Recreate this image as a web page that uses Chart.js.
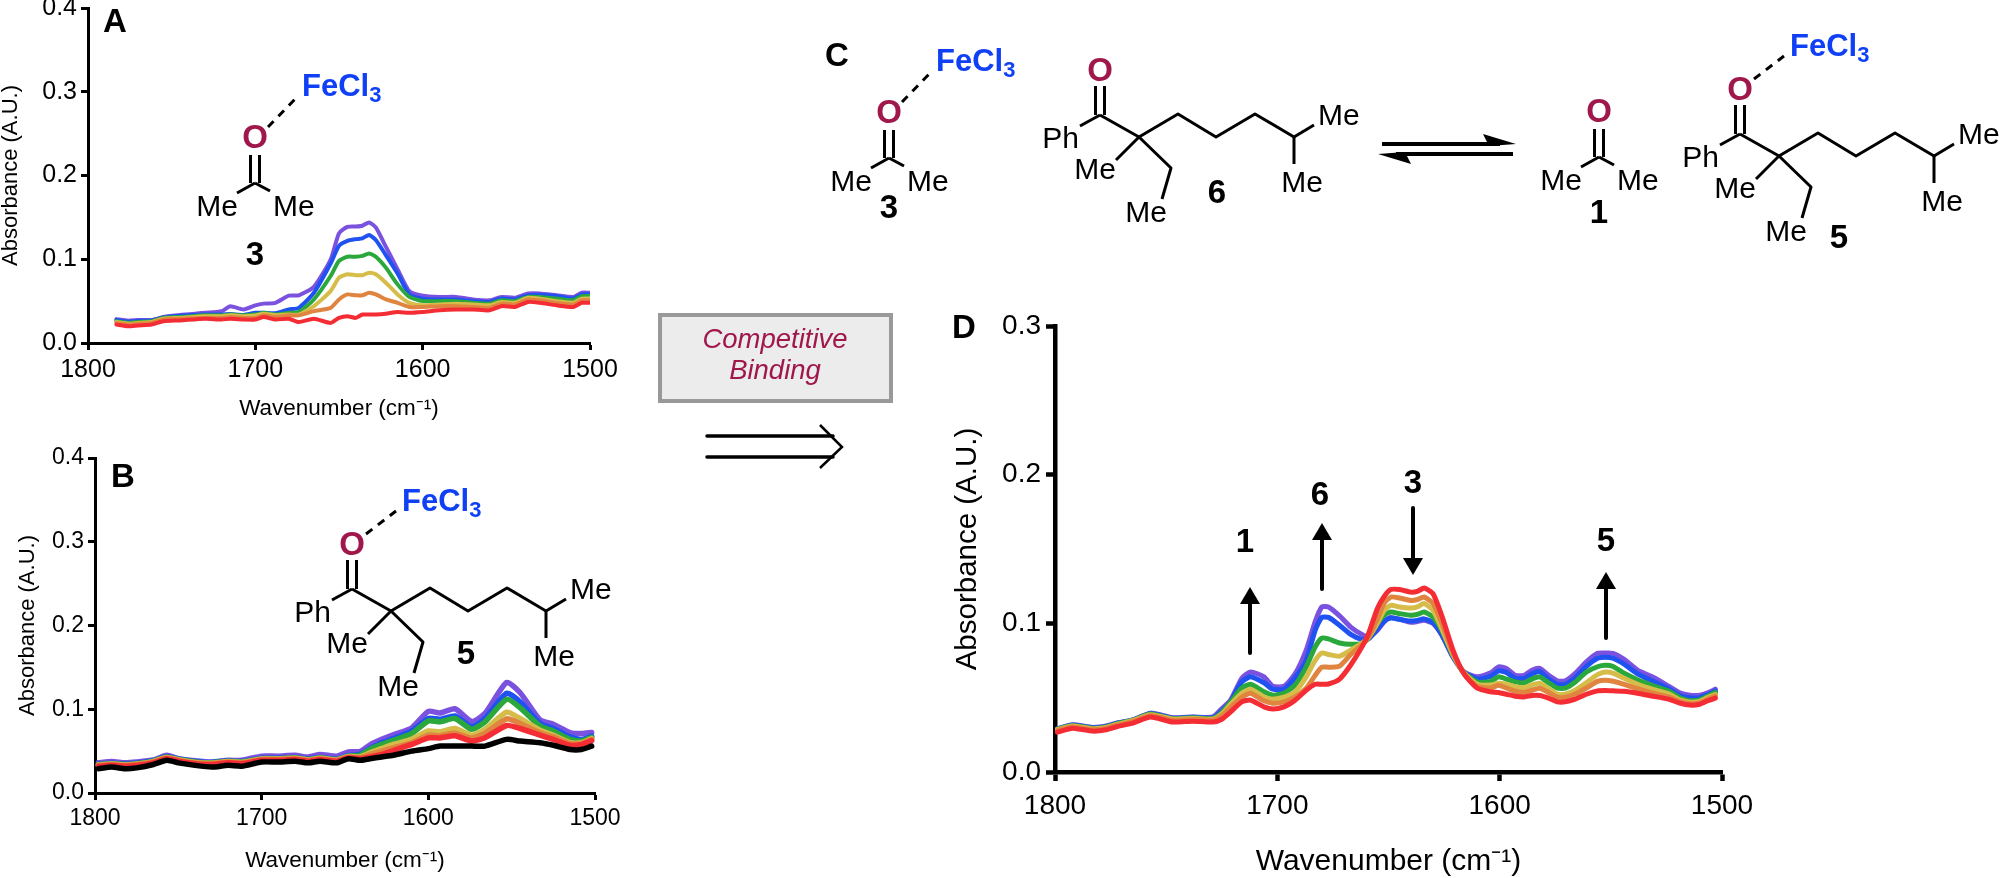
<!DOCTYPE html>
<html>
<head>
<meta charset="utf-8">
<title>Competitive binding</title>
<script src="https://cdn.jsdelivr.net/npm/chart.js@4/dist/chart.umd.min.js"></script>
<style>
  html, body { margin: 0; padding: 0; background: #fff; }
  #page { position: relative; width: 2000px; height: 878px; overflow: hidden; }
  canvas { position: absolute; }
  #scheme { position: absolute; left: 0; top: 0; pointer-events: none; font-family: "Liberation Sans", Arial, sans-serif; }
</style>
</head>
<body>
<div id="page">
  <canvas id="chartA" width="620" height="430" style="left:0;top:0;width:620px;height:430px"></canvas>
  <canvas id="chartB" width="620" height="438" style="left:0;top:440px;width:620px;height:438px"></canvas>
  <canvas id="chartD" width="830" height="578" style="left:940px;top:300px;width:830px;height:578px"></canvas>
  <svg id="scheme" width="2000" height="878" viewBox="0 0 2000 878"></svg>
</div>
<script>
const xTicks = [1800, 1700, 1600, 1500];
const seriesNames = ["red", "orange", "yellow", "green", "blue", "purple"];
const seriesColors = ["#F42C34", "#E08540", "#D6BD4A", "#2BA83C", "#1F52F0", "#7B52E0"];

// panel A
const wnA = [1783,1776,1770,1762,1755,1745,1730,1720,1715,1707,1700,1695,1688,1680,1674,1665,1655,1650,1645,1640,1636,1632,1628,1622,1615,1608,1600,1590,1580,1570,1560,1553,1545,1537,1530,1520,1510,1505,1500];
const redA = [.022,.02,.021,.022,.026,.027,.029,.028,.029,.028,.028,.031,.028,.029,.025,.029,.024,.03,.032,.03,.034,.034,.034,.035,.037,.036,.037,.039,.04,.04,.039,.044,.043,.049,.048,.045,.043,.048,.048];
const orangeA = [.024,.022,.023,.024,.028,.029,.03,.03,.031,.03,.03,.033,.031,.033,.033,.038,.042,.052,.058,.057,.057,.06,.058,.052,.048,.043,.043,.044,.044,.043,.042,.047,.046,.052,.051,.048,.046,.051,.051];
const yellowA = [.025,.023,.024,.025,.029,.03,.032,.032,.033,.032,.033,.035,.033,.034,.034,.044,.062,.078,.082,.081,.081,.084,.082,.072,.058,.048,.045,.046,.047,.046,.045,.049,.048,.054,.053,.05,.048,.053,.053];
const greenA = [.026,.024,.025,.026,.03,.031,.033,.033,.034,.033,.034,.036,.034,.036,.037,.052,.08,.098,.103,.103,.104,.107,.103,.09,.07,.055,.05,.05,.05,.048,.047,.051,.05,.055,.055,.053,.051,.056,.056];
const blueA = [.0275,.0255,.0265,.027,.0305,.0325,.034,.034,.0345,.0335,.036,.036,.0355,.04,.042,.06,.095,.116,.122,.124,.125,.129,.123,.105,.083,.058,.053,.052,.052,.05,.049,.053,.052,.057,.0575,.056,.053,.058,.058];
const purpleA = [.0285,.0265,.0275,.0275,.031,.0335,.036,.038,.0438,.04,.045,.047,.048,.0565,.057,.067,.0996,.131,.1386,.139,.14,.144,.138,.115,.088,.062,.0565,.055,.055,.052,.051,.055,.054,.059,.059,.057,.055,.06,.06];

// panel B
const wnB = [1798,1790,1782,1775,1765,1757,1750,1740,1730,1720,1712,1700,1690,1680,1672,1665,1655,1648,1641,1635,1628,1621,1610,1600,1593,1584,1574,1566,1553,1545,1533,1525,1515,1508,1502];
const blackB = [.029,.031,.029,.03,.034,.039,.036,.033,.031,.033,.032,.037,.037,.038,.036,.038,.036,.041,.039,.041,.043,.045,.05,.053,.056,.056,.056,.056,.064,.062,.06,.057,.052,.052,.056];
const redB = [.032,.033,.032,.033,.036,.041,.038,.035,.034,.036,.035,.039,.039,.04,.038,.04,.038,.042,.041,.043,.046,.0507,.058,.0658,.0658,.0683,.062,.066,.0806,.077,.069,.064,.057,.058,.0625];
const orangeB = [.033,.034,.033,.034,.037,.042,.039,.036,.035,.037,.036,.04,.04,.041,.039,.041,.039,.043,.042,.046,.05,.054,.06,.069,.0685,.0715,.0655,.0715,.0885,.083,.072,.067,.059,.059,.064];
const yellowB = [.0335,.0345,.0335,.0345,.0375,.0425,.0395,.0365,.0355,.0375,.0365,.0405,.0405,.0415,.0395,.0415,.0395,.0435,.043,.048,.053,.058,.064,.074,.073,.077,.069,.076,.0965,.089,.075,.069,.06,.06,.065];
const greenB = [.034,.035,.034,.035,.038,.043,.04,.037,.036,.038,.037,.041,.041,.042,.04,.042,.04,.044,.045,.052,.058,.063,.071,.086,.085,.089,.076,.085,.112,.102,.08,.074,.064,.062,.0665];
const blueB = [.0345,.0355,.0345,.0355,.0385,.0435,.0405,.0375,.0365,.0385,.0375,.0415,.0415,.0425,.0405,.0425,.0405,.0445,.046,.053,.06,.065,.074,.089,.088,.092,.079,.089,.119,.109,.083,.077,.067,.064,.068];
const purpleB = [.036,.0375,.036,.037,.0395,.045,.041,.0385,.037,.039,.039,.044,.044,.045,.043,.046,.044,.049,.0495,.0575,.064,.0695,.0777,.0974,.0955,.1006,.0854,.095,.132,.12,.0874,.082,.0722,.071,.0722];

// panel D
const wnD = [1799,1792,1783,1777,1772,1765,1757,1747,1738,1729,1725,1721,1716,1712,1706,1702,1697,1692,1687,1683,1680,1677,1672,1667,1662,1659,1655,1652,1649,1645,1640,1637,1634,1630,1626,1621,1616,1610,1604,1600.5,1597,1593,1589,1585.5,1582,1578,1574,1570.5,1566,1561,1556,1552.5,1549,1544,1538,1531,1524,1519,1514.5,1510,1506.5,1503];
const redD = [.0268,.0295,.0275,.0284,.0306,.0329,.037,.0336,.0342,.0336,.0355,.0405,.0472,.0483,.0438,.0423,.0438,.0483,.055,.059,.059,.0592,.0625,.072,.084,.093,.11,.118,.1227,.1227,.121,.1215,.1237,.12,.105,.082,.066,.0563,.0539,.0535,.0523,.051,.0505,.0515,.0515,.0497,.0472,.0472,.049,.0523,.0546,.0548,.0546,.0543,.053,.051,.049,.0463,.045,.0456,.0479,.0497];
const orangeD = [.028,.0305,.0285,.0295,.0316,.034,.038,.0348,.0355,.035,.038,.0435,.0503,.053,.0479,.0463,.0472,.0505,.0564,.065,.0705,.0705,.0712,.079,.0855,.0905,.103,.1134,.1177,.117,.1154,.116,.1177,.1134,.1,.08,.066,.0575,.0565,.0584,.0565,.0543,.0535,.055,.0564,.0535,.0503,.0503,.0525,.0565,.061,.0617,.061,.059,.056,.053,.0505,.0475,.046,.0465,.049,.051];
const yellowD = [.0285,.031,.029,.03,.032,.0345,.0385,.0355,.036,.0355,.039,.0455,.053,.0557,.0505,.049,.0503,.0539,.064,.075,.0801,.079,.0779,.0819,.0866,.0905,.1,.1087,.1121,.111,.1103,.111,.1134,.1087,.0964,.079,.0665,.059,.0585,.0597,.059,.0573,.0567,.0585,.0597,.056,.0523,.0523,.055,.06,.0655,.0673,.0665,.063,.059,.0555,.0525,.0485,.047,.0475,.05,.052];
const greenD = [.0288,.0313,.0293,.0303,.0325,.0348,.039,.0358,.0365,.036,.04,.047,.0564,.059,.0539,.0517,.053,.0584,.0707,.0841,.0901,.0895,.0868,.0859,.0866,.09,.1,.1054,.1076,.1065,.1054,.106,.1076,.1043,.0953,.0785,.0668,.0605,.061,.064,.0625,.0606,.06,.0625,.064,.06,.0564,.0564,.0605,.0673,.0708,.0718,.071,.0664,.062,.058,.0545,.05,.048,.0485,.051,.0535];
const blueD = [.029,.0316,.0297,.0307,.0328,.0349,.0393,.0362,.0368,.0365,.041,.0475,.0606,.064,.06,.0557,.0557,.0635,.075,.0953,.104,.104,.0987,.0926,.0892,.0895,.096,.1015,.1036,.1027,.1015,.102,.103,.1005,.0925,.0775,.067,.0625,.0645,.068,.067,.063,.063,.066,.0675,.0625,.059,.059,.0635,.071,.0765,.0772,.0765,.0725,.066,.061,.056,.0515,.05,.05,.052,.0545];
const purpleD = [.029,.0318,.03,.031,.033,.035,.0396,.0365,.037,.037,.0425,.0483,.063,.0673,.064,.0577,.0577,.066,.082,.101,.111,.111,.105,.0975,.0926,.0908,.0953,.101,.104,.1027,.1007,.1012,.102,.1,.092,.0774,.0673,.064,.0667,.0707,.0697,.065,.065,.0685,.0697,.065,.0613,.0613,.0664,.074,.0798,.08,.0798,.0758,.0685,.0637,.0577,.0532,.0517,.0517,.0532,.0557];

Chart.defaults.font.family = '"Liberation Sans", Arial, sans-serif';
Chart.defaults.color = '#000';

const toPoints = (wn, values) => wn.map((x, i) => ({ x: x, y: values[i] }));

// layout values are the pixel offsets of each panel's plot box inside its canvas
function makeChart(id, wn, rows, yMax, look) {
    const datasets = rows.map(row => ({
        label: row.name,
        data: toPoints(wn, row.values),
        borderColor: row.color,
        borderWidth: look.lineWidth,
        borderJoinStyle: 'round',
        borderCapStyle: 'round',
        pointRadius: 0,
        tension: 0.2,
        fill: false
    }));
    return new Chart(document.getElementById(id), {
        type: 'line',
        data: { datasets: datasets },
        options: {
            responsive: false,
            animation: false,
            devicePixelRatio: 1,
            layout: { padding: { left: 0, right: look.padRight, top: look.padTop, bottom: 0 } },
            plugins: { legend: { display: false }, tooltip: { enabled: false } },
            scales: {
                x: {
                    type: 'linear',
                    reverse: true,
                    min: 1500,
                    max: 1800,
                    afterBuildTicks: scale => { scale.ticks = xTicks.map(v => ({ value: v })); },
                    afterFit: scale => {
                        scale.height = look.xHeight;
                        scale.paddingLeft = scale.paddingRight = 0;
                    },
                    grid: { drawOnChartArea: false, tickLength: look.tickLength, tickWidth: look.axisWidth, tickColor: '#000' },
                    border: { color: '#000', width: look.axisWidth },
                    ticks: { autoSkip: false, maxRotation: 0, padding: look.xTickPad, font: { size: look.tickFont },
                        callback: v => String(v) },
                    title: { display: true, text: 'Wavenumber (cm\u207B\u00B9)', color: '#000',
                        font: { size: look.titleFont, lineHeight: 1 }, padding: { top: 0, bottom: look.xTitlePad } }
                },
                y: {
                    min: 0,
                    max: yMax,
                    afterFit: scale => {
                        scale.width = look.yWidth;
                        scale.paddingTop = scale.paddingBottom = 0;
                    },
                    grid: { drawOnChartArea: false, tickLength: look.tickLength, tickWidth: look.axisWidth, tickColor: '#000' },
                    border: { color: '#000', width: look.axisWidth },
                    ticks: { stepSize: 0.1, padding: look.yTickPad, font: { size: look.tickFont },
                        callback: v => v.toFixed(1) },
                    title: { display: true, text: 'Absorbance (A.U.)', color: '#000',
                        font: { size: look.yTitleFont, lineHeight: 1 }, padding: { top: look.yTitlePad, bottom: 0 } }
                }
            }
        }
    });
}

const rowsOf = lists => lists.map((values, i) => ({ name: seriesNames[i], color: seriesColors[i], values: values }));

makeChart('chartA', wnA, rowsOf([redA, orangeA, yellowA, greenA, blueA, purpleA]), 0.4, {
    lineWidth: 4, axisWidth: 3, tickLength: 7, tickFont: 25, titleFont: 22.5, yTitleFont: 22,
    padRight: 30, padTop: 8, xHeight: 87, yWidth: 88, xTickPad: 5, yTickPad: 4, xTitlePad: 10, yTitlePad: 0
});
makeChart('chartB', wnB, [{ name: 'black', color: '#000', values: blackB }].concat(rowsOf([redB, orangeB, yellowB, greenB, blueB, purpleB])), 0.4, {
    lineWidth: 5.5, axisWidth: 3, tickLength: 7, tickFont: 23, titleFont: 22.5, yTitleFont: 22,
    padRight: 25, padTop: 18, xHeight: 85, yWidth: 95, xTickPad: 5, yTickPad: 4, xTitlePad: 6, yTitlePad: 17
});
makeChart('chartD', wnD, rowsOf([redD, orangeD, yellowD, greenD, blueD, purpleD]), 0.3, {
    lineWidth: 5, axisWidth: 4.5, tickLength: 9, tickFont: 28, titleFont: 30, yTitleFont: 29.5,
    padRight: 48, padTop: 26, xHeight: 106, yWidth: 115, xTickPad: 8, yTickPad: 5, xTitlePad: 1, yTitlePad: 13
});

// scheme drawn on top: structures, labels and arrows
const BLUE = '#0F40F5', WINE = '#A0174B';
let svg = '';
const line = (x1, y1, x2, y2, w, extra) => {
    svg += `<line x1="${x1}" y1="${y1}" x2="${x2}" y2="${y2}" stroke="#000" stroke-width="${w || 3}" ${extra || ''}/>`;
};
const text = (x, y, s, opts) => {
    const o = opts || {};
    svg += `<text x="${x}" y="${y}" font-size="${o.size || 30}" fill="${o.fill || '#000'}" text-anchor="${o.anchor || 'start'}"`
        + ` font-weight="${o.bold ? 'bold' : 'normal'}" font-style="${o.italic ? 'italic' : 'normal'}">${s}</text>`;
};
const bold = (x, y, s) => text(x, y, s, { bold: true, size: 33, anchor: 'middle' });
const feCl3 = (x, y) => {
    svg += `<text x="${x}" y="${y}" font-size="31" font-weight="bold" fill="${BLUE}">FeCl<tspan font-size="22" dy="6">3</tspan></text>`;
};
const dashed = (x1, y1, x2, y2) => line(x1, y1, x2, y2, 3, 'stroke-dasharray="8 7"');

function acetone(cx, cy, withFe) {
    text(cx, cy - 35, 'O', { bold: true, size: 33, anchor: 'middle', fill: WINE });
    line(cx - 4.5, cy - 28, cx - 4.5, cy, 3);
    line(cx + 4.5, cy - 28, cx + 4.5, cy, 3);
    line(cx - 18, cy + 10, cx, cy, 3);
    line(cx, cy, cx + 15, cy + 8, 3);
    text(cx - 17, cy + 33, 'Me', { anchor: 'end' });
    text(cx + 18, cy + 33, 'Me');
    if (withFe) {
        dashed(cx + 13, cy - 56, cx + 42, cy - 86);
        feCl3(cx + 47, cy - 87);
    }
}

function ketone(cx, cy, withFe) {
    text(cx, cy - 34, 'O', { bold: true, size: 33, anchor: 'middle', fill: WINE });
    line(cx - 4.5, cy - 29, cx - 4.5, cy, 3);
    line(cx + 4.5, cy - 29, cx + 4.5, cy, 3);
    line(cx - 20, cy + 11, cx, cy, 3);
    text(cx - 21, cy + 33, 'Ph', { anchor: 'end' });
    const chain = [[0, 0], [39, 22], [78, -1], [116, 22], [155, -1], [194, 22], [214, 10]];
    svg += `<polyline fill="none" stroke="#000" stroke-width="3" stroke-linejoin="round" points="${chain.map(p => (cx + p[0]) + ',' + (cy + p[1])).join(' ')}"/>`;
    text(cx + 218, cy + 10, 'Me');
    line(cx + 194, cy + 22, cx + 194, cy + 49, 3);
    text(cx + 202, cy + 77, 'Me', { anchor: 'middle' });
    line(cx + 39, cy + 22, cx + 16, cy + 45, 3);
    text(cx + 16, cy + 64, 'Me', { anchor: 'end' });
    svg += `<polyline fill="none" stroke="#000" stroke-width="3" stroke-linejoin="round" points="${cx + 39},${cy + 22} ${cx + 71},${cy + 53} ${cx + 62},${cy + 84}"/>`;
    text(cx + 67, cy + 107, 'Me', { anchor: 'end' });
    if (withFe) {
        dashed(cx + 14, cy - 55, cx + 44, cy - 78);
        feCl3(cx + 50, cy - 78);
    }
}

function solidArrow(x, tail, tip) {
    const dir = tip < tail ? 1 : -1;
    const base = tip + dir * 17;
    line(x, tail, x, base, 4, 'stroke-linecap="round"');
    svg += `<polygon points="${x},${tip} ${x - 10},${base} ${x + 10},${base}" fill="#000"/>`;
}

// panel letters
text(103, 32, 'A', { bold: true, size: 33 });
text(111, 487, 'B', { bold: true, size: 33 });
text(825, 66, 'C', { bold: true, size: 33 });
text(952, 338, 'D', { bold: true, size: 33 });

// panel A and B structures
acetone(255, 183, true);
bold(255, 265, '3');
ketone(352, 589, true);
bold(466, 664, '5');

// panel C equilibrium
acetone(889, 158, true);
bold(889, 218, '3');
ketone(1100, 115, false);
bold(1217, 203, '6');
line(1382, 144, 1500, 144, 4);
svg += '<polygon points="1516,144 1483,134 1489,146" fill="#000"/>';
line(1396, 154, 1513, 154, 4);
svg += '<polygon points="1378,154 1411,164 1405,152" fill="#000"/>';
acetone(1599, 157, false);
bold(1599, 223, '1');
ketone(1740, 134, true);
bold(1839, 248, '5');

// competitive binding box
svg += '<rect x="660" y="315" width="231" height="86" fill="#ECECEC" stroke="#999" stroke-width="4"/>';
text(775, 348, 'Competitive', { italic: true, size: 27.5, anchor: 'middle', fill: WINE });
text(775, 379, 'Binding', { italic: true, size: 27.5, anchor: 'middle', fill: WINE });
line(707, 436, 833, 436, 3.5, 'stroke-linecap="round"');
line(707, 457, 833, 457, 3.5, 'stroke-linecap="round"');
svg += '<polyline points="820,425 842,447 820,468" fill="none" stroke="#000" stroke-width="2.5"/>';

// panel D peak markers
bold(1245, 552, '1');
solidArrow(1250, 653, 587);
bold(1320, 505, '6');
solidArrow(1322, 589, 523);
bold(1413, 493, '3');
solidArrow(1413, 508, 575);
bold(1606, 551, '5');
solidArrow(1606, 638, 572);

document.getElementById('scheme').innerHTML = svg;
</script>
</body>
</html>
